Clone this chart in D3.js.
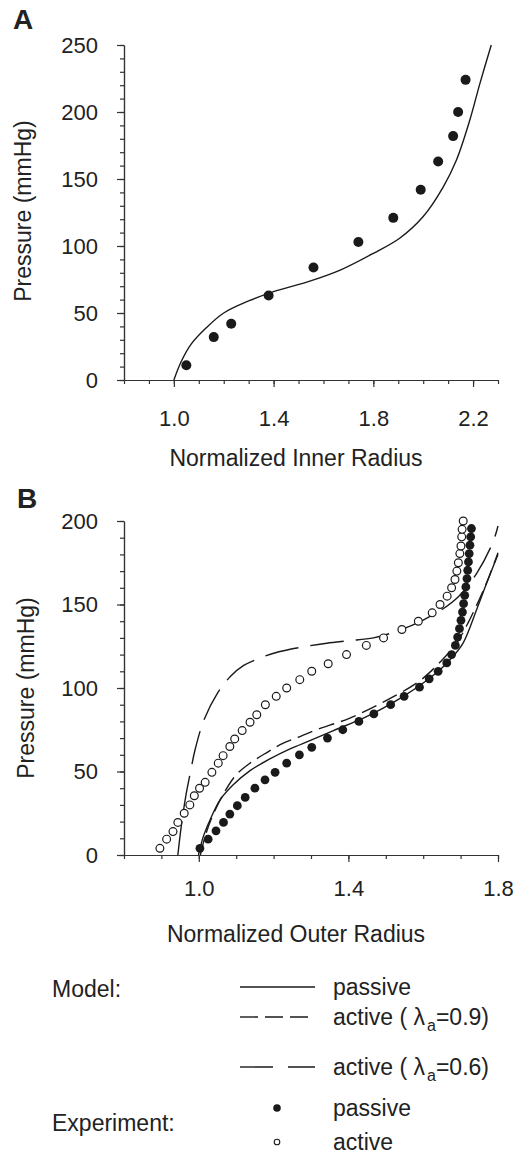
<!DOCTYPE html>
<html>
<head>
<meta charset="utf-8">
<script src="https://cdn.jsdelivr.net/npm/d3@7"></script>
<style>
  body { margin: 0; background: #fff; }
  svg text { font-family: "Liberation Sans", Arial, sans-serif; fill: #222; }
  .axis path, .axis line { stroke: #333; stroke-width: 1.2; }
</style>
</head>
<body>
<div id="chart"></div>
<script>
// ---- panel A data: inner radius vs pressure
var innerX = [1.05, 1.16, 1.23, 1.38, 1.56, 1.74, 1.88, 1.99, 2.06, 2.12, 2.14, 2.17];
var innerP = [11, 32, 42, 63, 84, 103, 121, 142, 163, 182, 200, 224];
var modelAX = [1.0, 1.03, 1.07, 1.13, 1.2, 1.3, 1.4, 1.533, 1.667, 1.8, 1.907, 2.0, 2.08, 2.133, 2.187, 2.227, 2.273];
var modelAP = [0, 14, 27, 39, 50, 59, 66, 73, 82, 94.5, 106, 122, 144, 164, 194, 221, 250];

// ---- panel B data: outer radius vs pressure
var passExpX = [1.003, 1.025, 1.046, 1.066, 1.083, 1.103, 1.124, 1.150, 1.177, 1.204, 1.235, 1.269, 1.302, 1.344, 1.385,
  1.428, 1.468, 1.513, 1.549, 1.590, 1.616, 1.640, 1.663, 1.676, 1.686, 1.692, 1.697, 1.701, 1.705, 1.708, 1.711, 1.714,
  1.717, 1.719, 1.721, 1.723, 1.725, 1.727, 1.729];
var passExpP = [4, 9.5, 14.5, 19.5, 24.5, 29.5, 34.5, 40, 45, 49.5, 55, 60, 64.5, 70, 75, 80, 84.5, 90, 95, 100.5, 105.5,
  110, 115, 120, 125.5, 130.5, 135.5, 140.5, 145.5, 150.5, 155.5, 160.5, 165.5, 170.5, 175.5, 180.5, 185.5, 190.5, 195.5];
var actExpX = [0.896, 0.914, 0.931, 0.944, 0.961, 0.976, 0.988, 1.002, 1.017, 1.035, 1.052, 1.065, 1.083, 1.096, 1.116,
  1.137, 1.155, 1.178, 1.207, 1.235, 1.270, 1.302, 1.346, 1.395, 1.448, 1.494, 1.543, 1.587, 1.624, 1.645, 1.664, 1.676,
  1.685, 1.690, 1.694, 1.698, 1.701, 1.703, 1.704, 1.707];
var actExpP = [4, 9.5, 14, 19.5, 25, 30, 35.5, 40, 43.5, 49.5, 55, 59.5, 65, 69.5, 74.5, 79.5, 84, 90, 95, 100, 105, 110,
  114.5, 120, 125.5, 130, 135, 140, 145, 150, 155, 160, 165, 170, 175, 180.5, 185, 190.5, 195, 200];

var passModX = [0.999, 1.012, 1.030, 1.057, 1.092, 1.137, 1.190, 1.244, 1.297, 1.360, 1.440, 1.493, 1.547, 1.600, 1.65, 1.68, 1.707, 1.743, 1.77, 1.80];
var passModP = [0, 11, 21, 33, 42, 50.5, 57.5, 63.5, 68.5, 74.5, 82, 88, 95, 103, 112, 119, 127, 147, 163, 180];
var act09X = [1.004, 1.018, 1.036, 1.067, 1.10, 1.137, 1.183, 1.226, 1.272, 1.315, 1.404, 1.493, 1.583, 1.618, 1.66, 1.69, 1.72, 1.75, 1.775, 1.80];
var act09P = [0, 12, 23, 37, 48, 55, 61.5, 67, 71, 75, 82, 91.5, 103, 109.5, 119, 127, 139, 153, 166, 181];
var act06X = [0.944, 0.953, 0.965, 0.978, 0.99, 1.014, 1.05, 1.085, 1.12, 1.17, 1.214, 1.281, 1.342, 1.40, 1.467, 1.538, 1.600, 1.65, 1.694, 1.743, 1.787, 1.80];
var act06P = [0, 17, 35, 50, 63, 81, 97, 107, 113.5, 118.5, 121.7, 124.7, 126.8, 128.3, 130, 134.7, 140.7, 147, 154.7, 168.7, 187.6, 197];

// ---- ticks and labels
var ticksAX = [1.0, 1.4, 1.8, 2.2];
var ticksAY = [0, 50, 100, 150, 200, 250];
var ticksBX = [1.0, 1.4, 1.8];
var ticksBY = [0, 50, 100, 150, 200];
var modelLabels = ["passive", "active ( λ", "active ( λ"];
var modelSubs = [null, "0.9", "0.6"];
var expLabels = ["passive", "active"];

var width = 515, height = 1157;
var svg = d3.select("#chart").append("svg")
  .attr("width", width)
  .attr("height", height);

function zip(xs, ys) { return xs.map(function(v, i) { return [v, ys[i]]; }); }
function range(a, b, s) { var out = []; for (var v = a; v <= b + 1e-9; v += s) out.push(+v.toFixed(3)); return out; }

// draw one pair of axes with major and minor ticks
function drawAxes(x, y, xMajor, yMajor, xMinor, yMinor, labelOffsetX) {
  svg.append("g").attr("class", "axis")
    .attr("transform", "translate(" + x.range()[0] + ",0)")
    .call(d3.axisLeft(y).tickValues(yMinor).tickSize(4).tickSizeOuter(0).tickFormat(""));
  svg.append("g").attr("class", "axis")
    .attr("transform", "translate(" + x.range()[0] + ",0)")
    .call(d3.axisLeft(y).tickValues(yMajor).tickSize(7).tickSizeOuter(0).tickPadding(19))
    .selectAll("text").attr("font-size", 22).attr("fill", "#222");
  svg.append("g").attr("class", "axis")
    .attr("transform", "translate(0," + y.range()[0] + ")")
    .call(d3.axisBottom(x).tickValues(xMinor).tickSize(4).tickSizeOuter(0).tickFormat(""));
  svg.append("g").attr("class", "axis")
    .attr("transform", "translate(0," + y.range()[0] + ")")
    .call(d3.axisBottom(x).tickValues(xMajor).tickSize(7).tickSizeOuter(0)
      .tickPadding(labelOffsetX).tickFormat(d3.format(".1f")))
    .selectAll("text").attr("font-size", 22).attr("fill", "#222");
  svg.selectAll(".axis .domain").attr("stroke", "#333");
}

function yTitle(cx, cy, txt) {
  svg.append("text")
    .attr("transform", "translate(" + cx + "," + cy + ") rotate(-90)")
    .attr("text-anchor", "middle")
    .attr("font-size", 23)
    .text(txt);
}
function xTitle(cx, cy, txt) {
  svg.append("text").attr("x", cx).attr("y", cy)
    .attr("text-anchor", "middle").attr("font-size", 23).text(txt);
}

var line = function(x, y) {
  return d3.line().curve(d3.curveCatmullRom.alpha(0.5))
    .x(function(d) { return x(d[0]); })
    .y(function(d) { return y(d[1]); });
};

// ================= panel A =================
var xA = d3.scaleLinear().domain([0.8, 2.3]).range([124, 498]);
var yA = d3.scaleLinear().domain([0, 250]).range([380, 45]);

drawAxes(xA, yA, ticksAX, ticksAY, range(0.8, 2.3, 0.1), range(0, 250, 10), 23);

svg.append("text").attr("x", 13).attr("y", 29)
  .attr("font-size", 28).attr("font-weight", "bold").text("A");
yTitle(31, 211, "Pressure (mmHg)");
xTitle(296, 466, "Normalized Inner Radius");

svg.append("path")
  .datum(zip(modelAX, modelAP))
  .attr("fill", "none").attr("stroke", "#1a1a1a").attr("stroke-width", 1.4)
  .attr("d", line(xA, yA));

svg.append("g").selectAll("circle")
  .data(zip(innerX, innerP))
  .enter().append("circle")
    .attr("cx", function(d) { return xA(d[0]); })
    .attr("cy", function(d) { return yA(d[1]); })
    .attr("r", 5)
    .attr("fill", "#1a1a1a");

// ================= panel B =================
var xB = d3.scaleLinear().domain([0.8, 1.8]).range([124, 498]);
var yB = d3.scaleLinear().domain([0, 200]).range([855, 521]);

drawAxes(xB, yB, ticksBX, ticksBY, range(0.8, 1.8, 0.1), range(0, 200, 10), 18);

svg.append("text").attr("x", 17).attr("y", 508)
  .attr("font-size", 28).attr("font-weight", "bold").text("B");
yTitle(34, 688, "Pressure (mmHg)");
xTitle(296, 942, "Normalized Outer Radius");

var models = [
  { pts: zip(passModX, passModP), dash: null },
  { pts: zip(act09X, act09P), dash: "16,7" },
  { pts: zip(act06X, act06P), dash: "34,12" }
];
models.forEach(function(m) {
  svg.append("path")
    .datum(m.pts)
    .attr("fill", "none").attr("stroke", "#1a1a1a").attr("stroke-width", 1.4)
    .attr("stroke-dasharray", m.dash)
    .attr("d", line(xB, yB));
});

svg.append("g").selectAll("circle")
  .data(zip(passExpX, passExpP))
  .enter().append("circle")
    .attr("cx", function(d) { return xB(d[0]); })
    .attr("cy", function(d) { return yB(d[1]); })
    .attr("r", 4.4)
    .attr("fill", "#1a1a1a");

svg.append("g").selectAll("circle")
  .data(zip(actExpX, actExpP))
  .enter().append("circle")
    .attr("cx", function(d) { return xB(d[0]); })
    .attr("cy", function(d) { return yB(d[1]); })
    .attr("r", 3.9)
    .attr("fill", "#fff").attr("stroke", "#1a1a1a").attr("stroke-width", 1.2);

// ================= legend =================
var legend = svg.append("g");
legend.append("text").attr("x", 52).attr("y", 997).attr("font-size", 23).text("Model:");
legend.append("text").attr("x", 52).attr("y", 1131).attr("font-size", 23).text("Experiment:");

var modelRows = [987, 1017, 1067];
var modelDash = [null, "18,7", "33,15"];
modelLabels.forEach(function(lab, i) {
  legend.append("line")
    .attr("x1", 240).attr("x2", 315)
    .attr("y1", modelRows[i]).attr("y2", modelRows[i])
    .attr("stroke", "#1a1a1a").attr("stroke-width", 1.4)
    .attr("stroke-dasharray", modelDash[i]);
  var t = legend.append("text").attr("x", 333).attr("y", modelRows[i] + 8).attr("font-size", 23);
  t.append("tspan").text(lab);
  if (modelSubs[i]) {
    t.append("tspan").attr("font-size", 16).attr("dx", 2).attr("dy", 6).text("a");
    t.append("tspan").attr("dy", -6).text("=" + modelSubs[i] + ")");
  }
});

var expRows = [1108, 1142];
expLabels.forEach(function(lab, i) {
  legend.append("circle")
    .attr("cx", 277).attr("cy", expRows[i])
    .attr("r", i === 0 ? 3.8 : 2.8)
    .attr("fill", i === 0 ? "#1a1a1a" : "#fff")
    .attr("stroke", "#1a1a1a").attr("stroke-width", i === 0 ? 0 : 1.1);
  legend.append("text").attr("x", 333).attr("y", expRows[i] + 8).attr("font-size", 23).text(lab);
});
</script>
</body>
</html>
